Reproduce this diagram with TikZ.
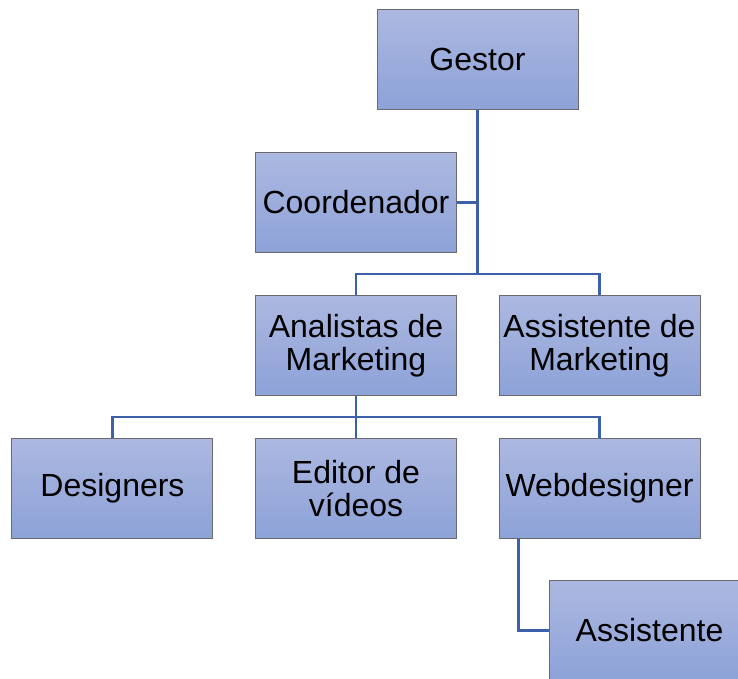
\documentclass[tikz,border=0pt]{standalone}
\usepackage{fontspec}
\setmainfont{Liberation Sans}
\usepackage{tikz}
\usetikzlibrary{positioning,calc}

\definecolor{boxtop}{RGB}{172,184,224}
\definecolor{boxbot}{RGB}{141,162,216}
\definecolor{boxline}{RGB}{105,105,110}
\definecolor{connblue}{RGB}{60,96,170}

\begin{document}
\begin{tikzpicture}[
  font=\fontsize{16}{16.5}\selectfont,
  node distance=21pt and 20.75pt,
  box/.style={draw=boxline, line width=0.5pt, top color=boxtop,
              bottom color=boxbot, align=center, inner sep=1pt,
              minimum width=100.5pt, minimum height=50pt},
  conn/.style={draw=connblue, line width=1.2pt},
]
\path[use as bounding box, clip] (-238.75pt,-309.75pt) rectangle (130.25pt,29.75pt);
% ---- top: manager and coordinator -----------------------------------
\node[box] (gestor) {Gestor};
\node[box, below=of gestor, xshift=-60.75pt] (coord) {Coordenador};
% ---- middle row ---------------------------------------------------------
\node[box, below=of coord] (analistas) {Analistas de\\Marketing};
\node[box, right=of analistas] (asmkt) {Assistente de\\Marketing};
% ---- bottom row ---------------------------------------------------------
\node[box, below=of analistas] (editor) {Editor de\\vídeos};
\node[box, left=of editor] (designers) {Designers};
\node[box, right=of editor] (web) {Webdesigner};
\node[box, below=20.5pt of web, xshift=25pt] (assist) {Assistente};
% ---- bus points ---------------------------------------------------------
\coordinate[below=10.5pt of coord.south] (bus1);
\coordinate[below=10.5pt of analistas.south] (bus2);
% ---- edges ------------------------------------------------------------
\draw[conn] (gestor.south) -- (gestor.south |- bus1);
\draw[conn] (coord.east) -- (coord.east -| gestor.south);
\draw[conn] (analistas.north) -- (bus1) -| (asmkt.north);
\draw[conn] (analistas.south) -- (bus2);
\draw[conn] (designers.north) |- (bus2) -| (web.north);
\draw[conn] (editor.north) -- (bus2);
\draw[conn] ([xshift=10pt]web.south west) |- (assist.west);
\end{tikzpicture}
\end{document}
